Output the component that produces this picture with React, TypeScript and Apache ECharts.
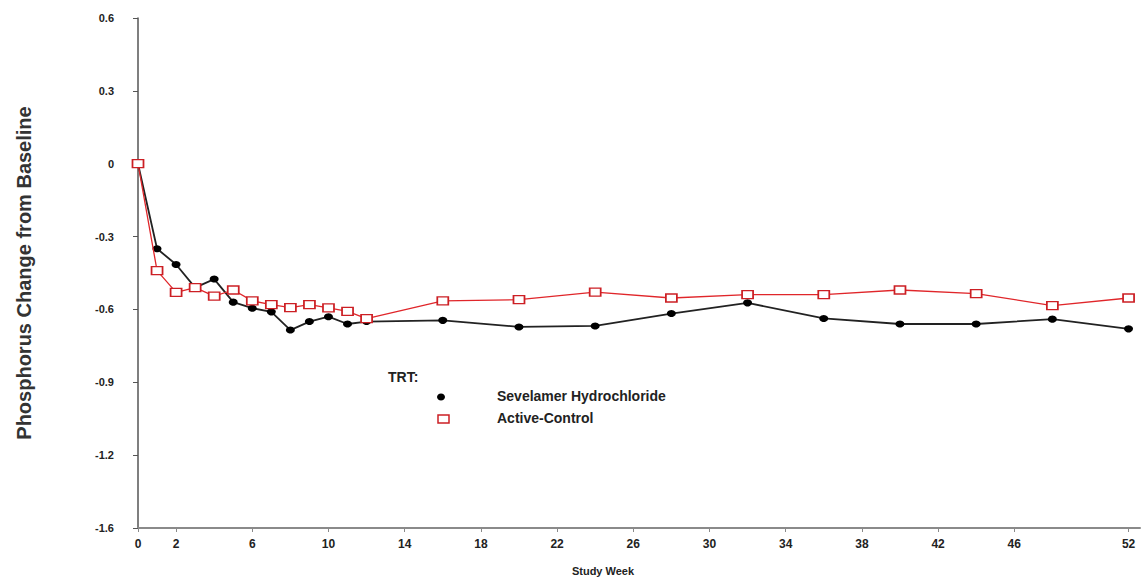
import React, { useEffect, useRef } from "react";
import * as echarts from "echarts";

const weeks = [0, 1, 2, 3, 4, 5, 6, 7, 8, 9, 10, 11, 12, 16, 20, 24, 28, 32, 36, 40, 44, 48, 52];
const sevelamer = [0, -0.35, -0.415, -0.51, -0.475, -0.57, -0.595, -0.61, -0.685, -0.65, -0.63, -0.66, -0.65, -0.645, -0.672, -0.668, -0.617, -0.573, -0.637, -0.66, -0.66, -0.64, -0.68];
const activeControl = [0, -0.44, -0.53, -0.51, -0.545, -0.52, -0.565, -0.58, -0.593, -0.58, -0.594, -0.608, -0.638, -0.565, -0.56, -0.529, -0.553, -0.539, -0.539, -0.52, -0.535, -0.584, -0.553];
const xTicks = [0, 2, 6, 10, 14, 18, 22, 26, 30, 34, 38, 42, 46, 52];
const yTicks = [0.6, 0.3, 0, -0.3, -0.6, -0.9, -1.2, -1.5];
const yTickLabels = ["0.6", "0.3", "0", "-0.3", "-0.6", "-0.9", "-1.2", "-1.6"];
const seriesNames = ["Sevelamer Hydrochloride", "Active-Control"];
const legendTitle = "TRT:";
const yTitle = "Phosphorus Change from Baseline";
const xTitle = "Study Week";

const FONT = "'Liberation Sans', Arial, sans-serif";

export default function App() {
  const ref = useRef<HTMLDivElement>(null);
  useEffect(() => {
    document.body.style.margin = "0";
    if (!ref.current) return;
    const chart = echarts.init(ref.current, null, { renderer: "svg" });
    const blackData = weeks.map((w, i) => [w, sevelamer[i]]);
    const redData = weeks.map((w, i) => [w, activeControl[i]]);
    chart.setOption({
      animation: false,
      backgroundColor: "#ffffff",
      grid: { left: 138, right: 2, top: 18, bottom: 50, containLabel: false },
      xAxis: {
        type: "value",
        min: 0,
        max: 52.6,
        axisLine: { show: true, onZero: false, lineStyle: { color: "#8a8a8a", width: 2 } },
        axisTick: { show: true, customValues: xTicks, length: 4, lineStyle: { color: "#8a8a8a" } },
        axisLabel: {
          customValues: xTicks,
          margin: 10,
          color: "#222",
          fontFamily: FONT,
          fontWeight: "bold",
          fontSize: 12,
        },
        splitLine: { show: false },
      },
      yAxis: {
        type: "value",
        min: -1.5,
        max: 0.6,
        axisLine: { show: true, onZero: false, lineStyle: { color: "#555", width: 1.5 } },
        axisTick: { show: true, customValues: yTicks, length: 5, lineStyle: { color: "#555" } },
        axisLabel: {
          customValues: yTicks,
          margin: 24,
          color: "#222",
          fontFamily: FONT,
          fontWeight: "bold",
          fontSize: 11,
          formatter: (v: number) => {
            const idx = yTicks.findIndex((t) => Math.abs(t - v) < 1e-6);
            return idx >= 0 ? yTickLabels[idx] : "";
          },
        },
        splitLine: { show: false },
        name: yTitle,
        nameLocation: "middle",
        nameGap: 104,
        nameRotate: 90,
        nameTextStyle: {
          color: "#333",
          fontFamily: FONT,
          fontWeight: "bold",
          fontSize: 20,
        },
      },
      series: [
        {
          name: seriesNames[0],
          type: "line",
          data: blackData,
          symbol: "circle",
          symbolSize: [9, 7],
          lineStyle: { color: "#222", width: 1.8 },
          itemStyle: { color: "#000" },
          z: 2,
        },
        {
          name: seriesNames[1],
          type: "line",
          data: redData,
          symbol: "rect",
          symbolSize: [11, 8],
          lineStyle: { color: "#e0262a", width: 1.3 },
          itemStyle: { color: "#ffffff", borderColor: "#cc1f24", borderWidth: 1.5 },
          z: 3,
        },
      ],
      graphic: [
        {
          type: "text",
          left: 388,
          top: 370,
          style: { text: legendTitle, fill: "#222", font: `bold 14px ${FONT}` },
        },
        {
          type: "ellipse",
          shape: { cx: 441, cy: 397, rx: 4, ry: 3.5 },
          style: { fill: "#000" },
        },
        {
          type: "text",
          left: 497,
          top: 389,
          style: { text: seriesNames[0], fill: "#222", font: `bold 14px ${FONT}` },
        },
        {
          type: "rect",
          shape: { x: 438, y: 415, width: 11, height: 8 },
          style: { fill: "#fff", stroke: "#cc1f24", lineWidth: 1.5 },
        },
        {
          type: "text",
          left: 497,
          top: 411,
          style: { text: seriesNames[1], fill: "#222", font: `bold 14px ${FONT}` },
        },
        {
          type: "text",
          x: 603,
          y: 571,
          style: {
            text: xTitle,
            fill: "#222",
            font: `bold 11px ${FONT}`,
            align: "center",
            verticalAlign: "middle",
          },
        },
      ],
    });
    return () => chart.dispose();
  }, []);
  return <div ref={ref} style={{ width: 1142, height: 578 }} />;
}
